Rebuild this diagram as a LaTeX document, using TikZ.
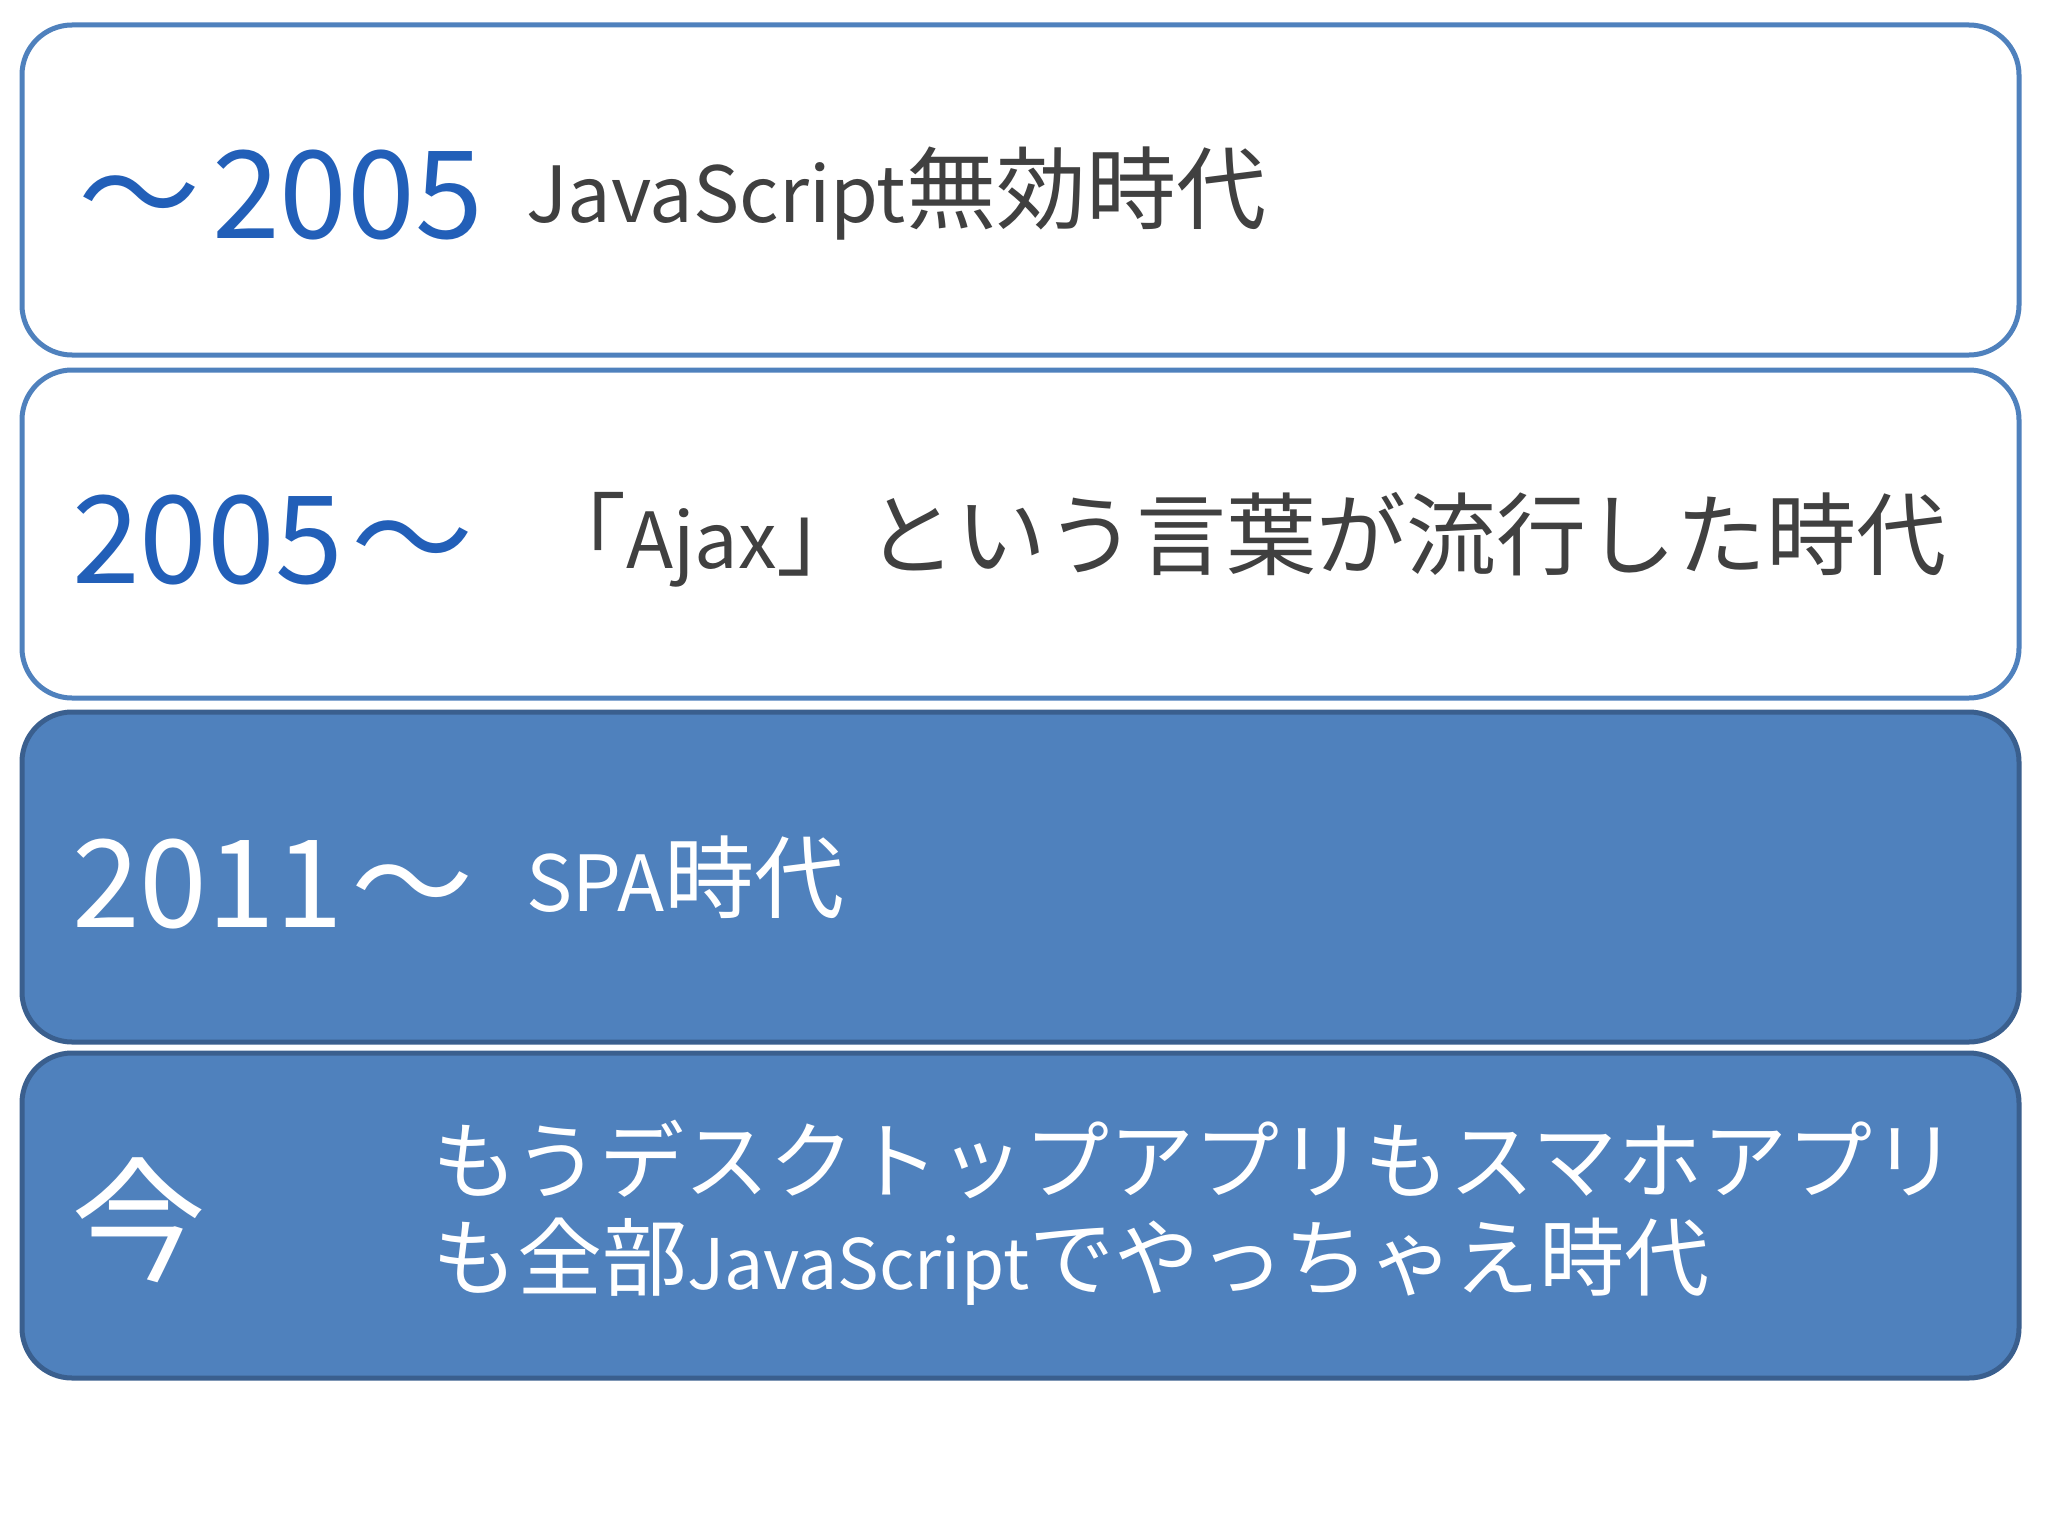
\documentclass[tikz,border=0pt]{standalone}
\usepackage{fontspec}
\setmainfont{Noto Sans CJK JP}
\newfontfamily\latfont[Scale=0.86]{Noto Sans CJK JP}
\newfontfamily\latfontb[Scale=0.82]{Noto Sans CJK JP}
\definecolor{accent}{HTML}{4F81BD}
\definecolor{accentdark}{HTML}{3A5F8E}
\definecolor{yearblue}{HTML}{225FB8}
\definecolor{darktext}{HTML}{404040}
\begin{document}
\begin{tikzpicture}[x=1pt,y=-1pt,
  lightbox/.style={draw=accent, line width=5pt, fill=white, rounded corners=50pt,
    minimum width=1997pt, inner sep=0pt},
  darkbox/.style={draw=accentdark, line width=5pt, fill=accent, rounded corners=50pt,
    minimum width=1997pt, inner sep=0pt},
  yeartext/.style={inner sep=0pt, anchor=base west, font=\fontsize{122}{130}\selectfont},
  bodytext/.style={inner sep=0pt, anchor=base west, font=\fontsize{90}{100}\selectfont},
]
\useasboundingbox (0,0) rectangle (2048,1536);
\fill[white] (0,0) rectangle (2048,1536);

\node[lightbox, minimum height=330pt] (b1) at (1020.5,190) {};
\node[lightbox, minimum height=328pt] (b2) at (1020.5,534) {};
\node[darkbox, minimum height=330pt] (b3) at (1020.5,877) {};
\node[darkbox, minimum height=325pt] (b4) at (1020.5,1215.5) {};

\node[yeartext, text=yearblue] (y1) at (78,238) {〜\hspace{12pt}2005};
\node[bodytext, text=darktext] (t1) at (526,222) {{\latfont JavaScript}無効時代};

\node[yeartext, text=yearblue] (y2) at (72,583) {2005\hspace{9pt}〜};
\node[bodytext, text=darktext] (t2) at (536,568) {「{\latfont Ajax}」という言葉が流行した時代};

\node[yeartext, text=white] (y3) at (72,927) {2011\hspace{9pt}〜};
\node[bodytext, text=white] (t3) at (526,911) {{\latfont SPA}時代};

\node[inner sep=0pt, text=white, font=\fontsize{135}{140}\selectfont] (y4) at (139,1220) {今};
\node[inner sep=0pt, anchor=base west, text=white, align=left,
  font=\fontsize{85}{97}\selectfont] (t4) at (432,1289)
  {もうデスクトップアプリもスマホアプリ\\も全部{\latfontb JavaScript}でやっちゃえ時代};
\end{tikzpicture}
\end{document}
